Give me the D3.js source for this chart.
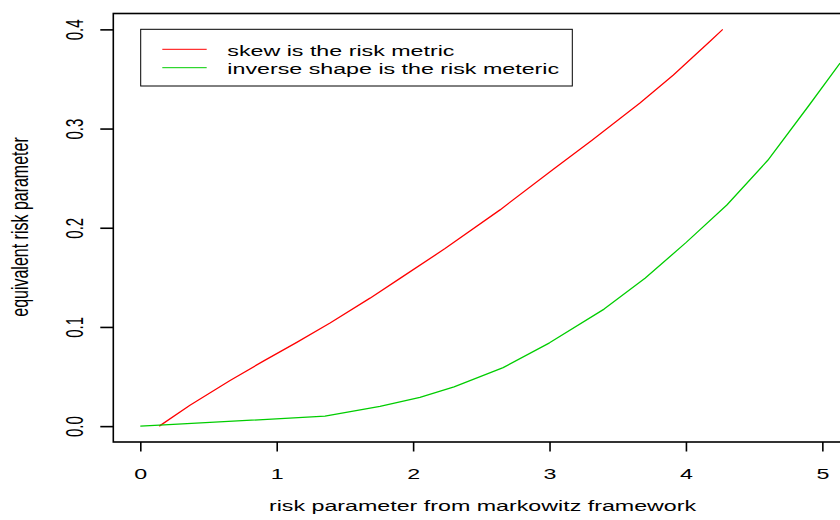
<!DOCTYPE html>
<html>
<head>
<meta charset="utf-8">
<script src="https://cdn.jsdelivr.net/npm/d3@7"></script>
<style>
  html, body { margin: 0; padding: 0; background: #fff; }
  svg { display: block; }
  text { font-family: "Liberation Sans", Arial, Helvetica, sans-serif; fill: #000; }
</style>
</head>
<body>
<div id="chart"></div>
<script>
// curves
const skewX = [0.139, 0.364, 0.658, 0.902, 1.147, 1.391, 1.684, 1.904, 2.234, 2.637, 3.028, 3.309, 3.663, 3.908, 4.177, 4.27];
const skewY = [0, 0.021, 0.046, 0.0655, 0.0845, 0.104, 0.129, 0.149, 0.179, 0.218, 0.259, 0.288, 0.3258, 0.354, 0.388, 0.400];
const shapeX = [0, 0.14, 1.354, 1.757, 2.05, 2.3, 2.66, 3.0, 3.4, 3.7, 4.0, 4.3, 4.6, 4.9, 5.13];
const shapeY = [0, 0.001, 0.010, 0.020, 0.029, 0.0395, 0.059, 0.084, 0.118, 0.149, 0.185, 0.223, 0.268, 0.323, 0.366];

const xTicks = [0, 1, 2, 3, 4, 5];
const yTicks = [0, 0.1, 0.2, 0.3, 0.4];
const legendLabels = ["skew is the risk metric", "inverse shape is the risk meteric"];
const colors = ["#ff0000", "#00cd00"];

const width = 840, height = 520;
// plot box (right side runs off the picture)
const box = {left: 113.3, top: 13.5, bottom: 442, right: 878};
const stretch = 1.55; // text in the picture is wide

const x = d3.scaleLinear().domain([-0.198, 5.408]).range([box.left, box.right]);
const y = d3.scaleLinear().domain([-0.016, 0.416]).range([box.bottom, box.top]);

const svg = d3.select("#chart").append("svg")
    .attr("width", width)
    .attr("height", height);

svg.append("clipPath").attr("id", "plotclip")
  .append("rect")
    .attr("x", box.left).attr("y", box.top)
    .attr("width", box.right - box.left).attr("height", box.bottom - box.top);

const line = d3.line().x(d => x(d[0])).y(d => y(d[1]));
const series = [d3.zip(skewX, skewY), d3.zip(shapeX, shapeY)];

svg.append("g").attr("clip-path", "url(#plotclip)")
  .selectAll("path")
  .data(series)
  .enter().append("path")
    .attr("d", line)
    .attr("fill", "none")
    .attr("stroke", (d, i) => colors[i])
    .attr("stroke-width", 1.3)
    .attr("stroke-linejoin", "round");

// box
svg.append("rect")
    .attr("x", box.left).attr("y", box.top)
    .attr("width", box.right - box.left).attr("height", box.bottom - box.top)
    .attr("fill", "none").attr("stroke", "#000").attr("stroke-width", 1.6);

// x axis
const gx = svg.append("g")
    .attr("transform", "translate(0," + box.bottom + ")")
    .call(d3.axisBottom(x).tickValues(xTicks).tickSize(9.5).tickFormat(d3.format("d")));
gx.select(".domain").remove();
gx.selectAll(".tick line").attr("stroke", "#000").attr("stroke-width", 1.6);
gx.selectAll(".tick text")
    .attr("y", null).attr("dy", null)
    .attr("transform", "translate(0,37) scale(" + stretch + ",1)")
    .style("font-size", "15px")
    .attr("fill", "#000");

// y axis
const gy = svg.append("g")
    .attr("transform", "translate(" + box.left + ",0)")
    .call(d3.axisLeft(y).tickValues(yTicks).tickSize(13).tickFormat(d3.format(".1f")));
gy.select(".domain").remove();
gy.selectAll(".tick line").attr("stroke", "#000").attr("stroke-width", 1.6);
gy.selectAll(".tick text")
    .attr("x", null).attr("dy", null)
    .attr("text-anchor", "middle")
    .attr("transform", "translate(-30,0) scale(" + stretch + ",1) rotate(-90)")
    .style("font-size", "15px")
    .attr("fill", "#000");

// axis titles
svg.append("text")
    .attr("transform", "translate(482.5,511) scale(" + stretch + ",1)")
    .attr("text-anchor", "middle")
    .style("font-size", "15px")
    .text("risk parameter from markowitz framework");

svg.append("text")
    .attr("transform", "translate(28,227) scale(1.45,1) rotate(-90)")
    .attr("text-anchor", "middle")
    .style("font-size", "16px")
    .text("equivalent risk parameter");

// legend
const legend = svg.append("g");
legend.append("rect")
    .attr("x", 140.7).attr("y", 29.3)
    .attr("width", 431.6).attr("height", 56.7)
    .attr("fill", "#fff").attr("stroke", "#000").attr("stroke-width", 1);

legendLabels.forEach((label, i) => {
    const ly = 49.3 + i * 18.4;
    legend.append("line")
        .attr("x1", 162.3).attr("x2", 206.7)
        .attr("y1", ly).attr("y2", ly)
        .attr("stroke", colors[i]).attr("stroke-width", 1);
    legend.append("text")
        .attr("transform", "translate(227.3," + (ly + 6.5) + ") scale(" + stretch + ",1)")
        .style("font-size", "15px")
        .text(label);
});
</script>
</body>
</html>
